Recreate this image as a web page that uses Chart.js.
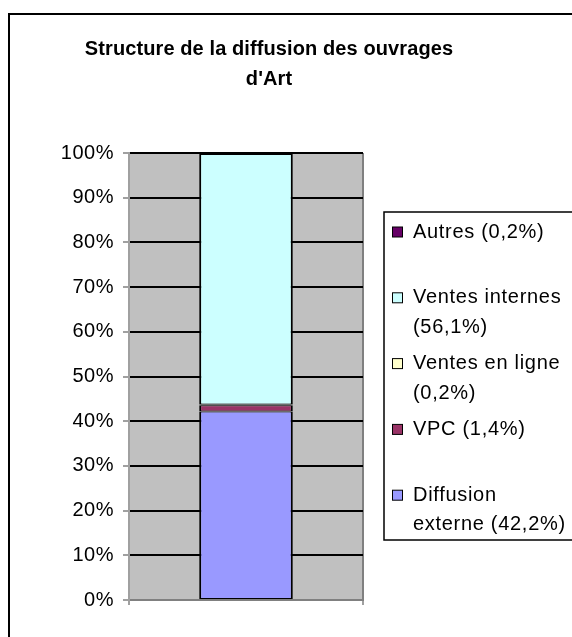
<!DOCTYPE html>
<html>
<head>
<meta charset="utf-8">
<script src="https://cdn.jsdelivr.net/npm/chart.js@4.4.1/dist/chart.umd.min.js"></script>
<style>
  html, body { margin: 0; padding: 0; background: #fff; overflow: hidden; }
  #wrap { position: relative; width: 572px; height: 637px; }
</style>
</head>
<body>
<div id="wrap"><canvas id="diffusion" width="572" height="637"></canvas></div>
<script>
// Chart data
const categories = [''];
const seriesNames = ['Diffusion externe', 'VPC', 'Ventes en ligne', 'Ventes internes', 'Autres'];
const seriesValues = [42.2, 1.4, 0.2, 56.1, 0.2];
const seriesColors = ['#9999FF', '#993366', '#FFFFCC', '#CCFFFF', '#660066'];
const titleLines = ['Structure de la diffusion des ouvrages', "d'Art"];
const yMin = 0;
const yMax = 100;
const yStep = 10;

// 100% stacked: each value as a share of the total
const total = seriesValues.reduce((a, b) => a + b, 0);

const FONT = '"Liberation Sans", Arial, sans-serif';

function legendLabel(i) {
    return seriesNames[i] + ' (' + seriesValues[i].toFixed(1).replace('.', ',') + '%)';
}

function wrapText(ctx, text, maxWidth) {
    const words = text.split(' ');
    const lines = [];
    let line = '';
    words.forEach(w => {
        const test = line ? line + ' ' + w : w;
        if (line && ctx.measureText(test).width > maxWidth) {
            lines.push(line);
            line = w;
        } else {
            line = test;
        }
    });
    if (line) lines.push(line);
    return lines;
}

// Frame, plot background, title and legend
const excelLook = {
    id: 'excelLook',
    beforeDraw(chart) {
        const ctx = chart.ctx;
        const a = chart.chartArea;
        ctx.save();
        ctx.fillStyle = '#fff';
        ctx.fillRect(0, 0, chart.width, chart.height);
        ctx.strokeStyle = '#000';
        ctx.lineWidth = 2;
        ctx.strokeRect(9, 14, 800, 800);
        ctx.fillStyle = '#C0C0C0';
        ctx.fillRect(a.left, a.top, a.right - a.left, a.bottom - a.top);
        ctx.restore();
        // slightly wider letter spacing, like the Excel rendering
        ctx.letterSpacing = '0.5px';
    },
    afterDraw(chart) {
        const ctx = chart.ctx;
        ctx.save();

        // title
        ctx.fillStyle = '#000';
        ctx.textAlign = 'center';
        ctx.textBaseline = 'alphabetic';
        ctx.font = 'bold 20px ' + FONT;
        ctx.letterSpacing = '0.1px';
        titleLines.forEach((t, i) => ctx.fillText(t, 269, 55 + i * 30));

        // legend box
        ctx.fillStyle = '#fff';
        ctx.fillRect(384, 212, 400, 328);
        ctx.strokeStyle = '#000';
        ctx.lineWidth = 1.5;
        ctx.strokeRect(384, 212, 400, 328);

        ctx.font = '20px ' + FONT;
        ctx.letterSpacing = '0.7px';
        ctx.textAlign = 'left';
        const ds = chart.data.datasets;
        for (let k = 0; k < ds.length; k++) {
            const i = ds.length - 1 - k;
            const base = 237.5 + k * 65.8;
            ctx.fillStyle = ds[i].backgroundColor;
            ctx.fillRect(392.5, base - 10.5, 10, 10);
            ctx.strokeStyle = '#000';
            ctx.lineWidth = 1;
            ctx.strokeRect(392.5, base - 10.5, 10, 10);
            ctx.fillStyle = '#000';
            const lines = wrapText(ctx, ds[i].label, 158);
            lines.forEach((l, j) => ctx.fillText(l, 413, base + j * 29.5));
        }
        ctx.restore();
    }
};

const datasets = seriesNames.map((name, i) => ({
    label: legendLabel(i),
    data: [seriesValues[i] / total * 100],
    backgroundColor: seriesColors[i],
    borderColor: '#000',
    borderWidth: { left: 2, right: 2, top: 1, bottom: 1 },
    borderSkipped: false,
    barPercentage: 0.4,
    categoryPercentage: 1.0
}));

new Chart(document.getElementById('diffusion'), {
    type: 'bar',
    data: { labels: categories, datasets: datasets },
    plugins: [excelLook],
    options: {
        responsive: false,
        animation: false,
        events: [],
        layout: { padding: { top: 153, left: 0, right: 209, bottom: 0 } },
        plugins: {
            legend: { display: false },
            title: { display: false },
            tooltip: { enabled: false }
        },
        scales: {
            x: {
                stacked: true,
                offset: true,
                grid: {
                    offset: true,
                    color: '#808080',
                    lineWidth: 2,
                    tickColor: '#A0A0A0',
                    tickLength: 5
                },
                border: { color: '#808080', width: 2 },
                ticks: { display: false },
                afterFit: function(scale) { scale.height = 37; }
            },
            y: {
                stacked: true,
                min: yMin,
                max: yMax,
                ticks: {
                    stepSize: yStep,
                    color: '#000',
                    padding: 9,
                    font: { family: FONT, size: 20 },
                    callback: function(value) { return value + '%'; }
                },
                grid: {
                    color: function(c) { return c.tick && c.tick.value === 0 ? '#808080' : '#000'; },
                    lineWidth: 2,
                    tickColor: '#A0A0A0',
                    tickLength: 6
                },
                border: { color: '#A0A0A0', width: 2 },
                afterFit: function(scale) { scale.width = 129; }
            }
        }
    }
});
</script>
</body>
</html>
